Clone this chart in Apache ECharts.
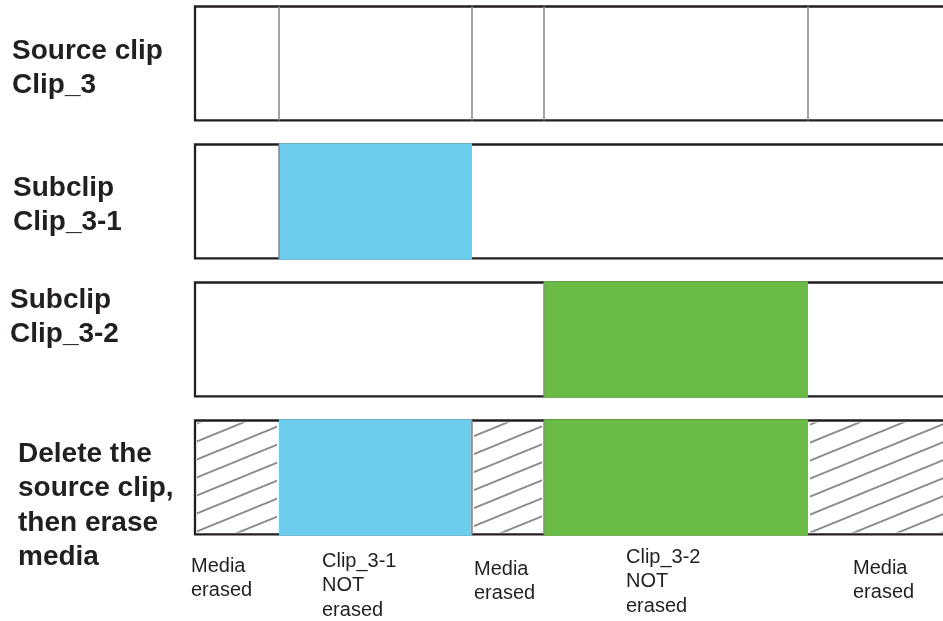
<!DOCTYPE html>
<html>
<head>
<meta charset="utf-8">
<script src="https://cdn.jsdelivr.net/npm/echarts@6/dist/echarts.min.js"></script>
<style>
  html, body { margin: 0; padding: 0; background: #fff; }
  #chart { width: 943px; height: 621px; }
</style>
</head>
<body>
<div id="chart"></div>
<script>
// rows of the diagram, top to bottom (0..3)
const rowNames = ['Source clip', 'Subclip 3-1', 'Subclip 3-2', 'Delete source']
// cut points along the source clip (frames), last one runs off the page
const cuts = [0, 84, 277, 349, 613, 760]
// state of each segment between cuts, per row
const sourceRow = ['plain', 'plain', 'plain', 'plain', 'plain']
const subclip1Row = ['plain', 'blue', 'plain', 'plain', 'plain']
const subclip2Row = ['plain', 'plain', 'plain', 'green', 'plain']
const deleteRow = ['hatch', 'blue', 'hatch', 'green', 'hatch']
// thin grey separators drawn in each row
const rowDividers = [[84, 277, 349, 613], [84], [349], [277, 349]]

const rowLabels = [
  ['Source clip', 'Clip_3'],
  ['Subclip', 'Clip_3-1'],
  ['Subclip', 'Clip_3-2'],
  ['Delete the', 'source clip,', 'then erase', 'media'],
]
const segLabels = [
  ['Media', 'erased'],
  ['Clip_3-1', 'NOT', 'erased'],
  ['Media', 'erased'],
  ['Clip_3-2', 'NOT', 'erased'],
  ['Media', 'erased'],
]

const colors = { blue: '#6dcdec', green: '#6abb46' }
const dark = '#231f20'
const grey = '#8d8d90'

// diagonal hatch used for erased media
function makeHatch() {
  const w = 44, h = 18
  const c = document.createElement('canvas')
  c.width = w
  c.height = h
  const ctx = c.getContext('2d')
  ctx.strokeStyle = '#8c8c8c'
  ctx.lineWidth = 2
  for (let k = -1; k <= 1; k++) {
    ctx.beginPath()
    ctx.moveTo(0, h + k * h)
    ctx.lineTo(w, k * h)
    ctx.stroke()
  }
  return c
}
const hatch = { image: makeHatch(), repeat: 'repeat' }

const rowStates = [sourceRow, subclip1Row, subclip2Row, deleteRow]
const segData = []
const segKinds = []
rowStates.forEach((states, r) => {
  states.forEach((kind, i) => {
    if (kind === 'plain') return
    segData.push([cuts[i], r, cuts[i + 1]])
    segKinds.push(kind)
  })
})
const frameData = rowNames.map((_, r) => [cuts[0], r, cuts[cuts.length - 1]])
const dividerData = []
rowDividers.forEach((list, r) => list.forEach((x) => dividerData.push([x, r, x])))

function rowBox(api) {
  const r = api.value(1)
  const p0 = api.coord([api.value(0), r])
  const p1 = api.coord([api.value(2), r])
  const h = api.size([0, 1])[1] * 0.826
  return { x: p0[0], y: p0[1] - h / 2, width: p1[0] - p0[0], height: h }
}

const chart = echarts.init(document.getElementById('chart'))
chart.setOption({
  animation: false,
  grid: { left: 195, right: 0, top: 0, height: 552 },
  xAxis: { type: 'value', min: 0, max: 748, show: false },
  yAxis: { type: 'value', min: -0.46, max: 3.54, inverse: true, show: false },
  series: [
    {
      type: 'custom',
      clip: false,
      data: frameData,
      renderItem: (params, api) => {
        const b = rowBox(api)
        return { type: 'rect', shape: b, style: { fill: '#fff', stroke: dark, lineWidth: 2.3 } }
      },
    },
    {
      type: 'custom',
      clip: false,
      data: segData,
      renderItem: (params, api) => {
        const kind = segKinds[params.dataIndex]
        const b = rowBox(api)
        if (kind === 'hatch') {
          return {
            type: 'rect',
            shape: { x: b.x + 2, y: b.y + 2, width: b.width - 4, height: b.height - 4 },
            style: { fill: hatch },
          }
        }
        return {
          type: 'rect',
          shape: { x: b.x, y: b.y - 1.2, width: b.width, height: b.height + 2.4 },
          style: { fill: colors[kind] },
        }
      },
    },
    {
      type: 'custom',
      clip: false,
      data: dividerData,
      renderItem: (params, api) => {
        const b = rowBox(api)
        return {
          type: 'line',
          shape: { x1: b.x, y1: b.y, x2: b.x, y2: b.y + b.height },
          style: { stroke: grey, lineWidth: 1.6 },
        }
      },
    },
  ],
  graphic: [
    ...rowLabels.map((lines, i) => {
      const pos = [[12, 34], [13, 171], [10, 283], [18, 437]][i]
      return {
        type: 'text',
        x: pos[0],
        y: pos[1],
        style: {
          text: lines.join('\n'),
          font: 'bold 28px "Liberation Sans", Arial, sans-serif',
          fill: dark,
          lineHeight: 34.5,
          verticalAlign: 'top',
        },
      }
    }),
    ...segLabels.map((lines, i) => {
      const pos = [[191, 554], [322, 549], [474, 557], [626, 545], [853, 556]][i]
      return {
        type: 'text',
        x: pos[0],
        y: pos[1],
        style: {
          text: lines.join('\n'),
          font: '20px "Liberation Sans", Arial, sans-serif',
          fill: dark,
          lineHeight: 24.5,
          verticalAlign: 'top',
        },
      }
    }),
  ],
})
</script>
</body>
</html>
